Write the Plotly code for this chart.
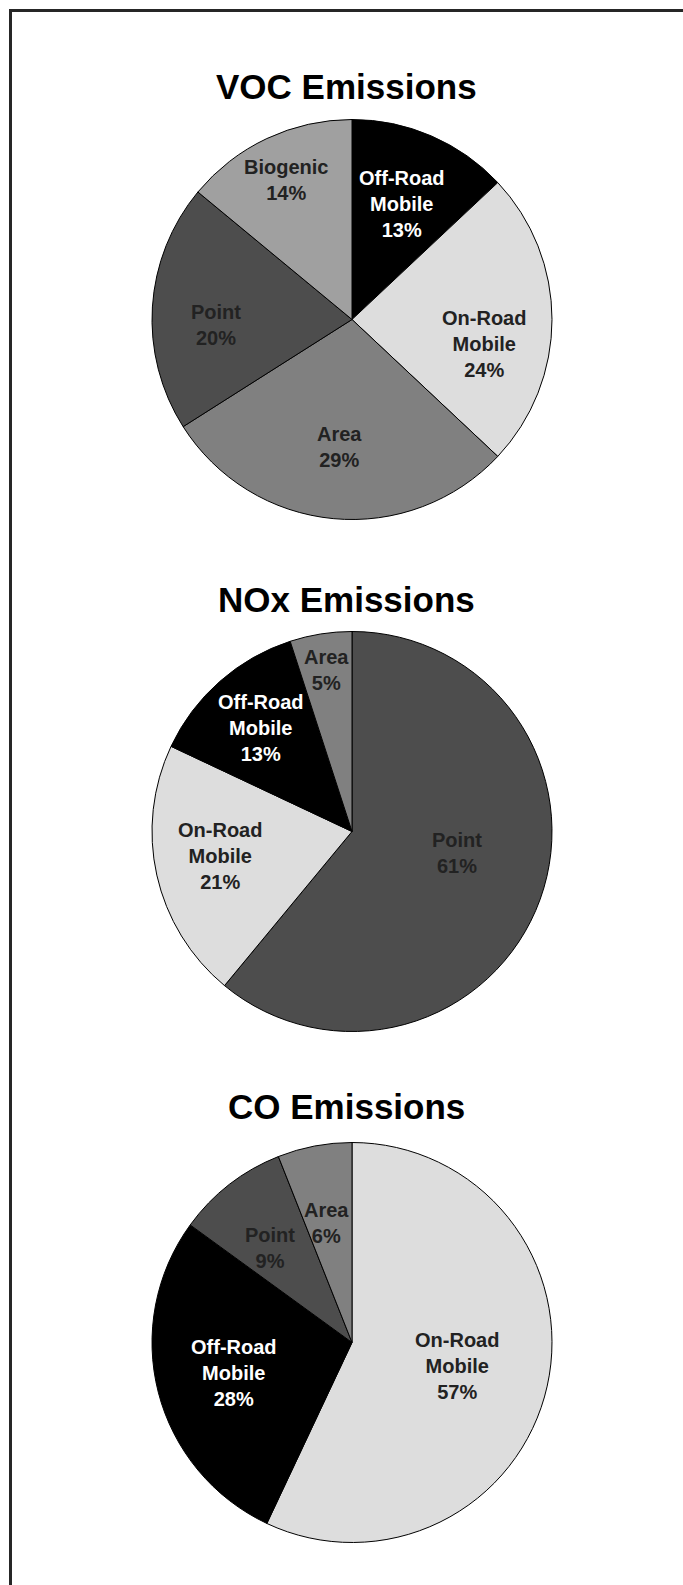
import math
import plotly.graph_objects as go

# Emission shares (percent) by source category, listed clockwise from 12 o'clock
VOC_SOURCES = ["Off-Road Mobile", "On-Road Mobile", "Area", "Point", "Biogenic"]
VOC_SHARES = [13, 24, 29, 20, 14]

NOX_SOURCES = ["Point", "On-Road Mobile", "Off-Road Mobile", "Area"]
NOX_SHARES = [61, 21, 13, 5]

CO_SOURCES = ["On-Road Mobile", "Off-Road Mobile", "Point", "Area"]
CO_SHARES = [57, 28, 9, 6]

TITLES = ["VOC Emissions", "NOx Emissions", "CO Emissions"]

# Styling
SOURCE_COLORS = {
    "Off-Road Mobile": "#000000",
    "On-Road Mobile": "#DDDDDD",
    "Area": "#808080",
    "Point": "#4D4D4D",
    "Biogenic": "#A0A0A0",
}
DARK_TEXT = "#222222"
FONT = "Liberation Sans, Arial, sans-serif"

W, H = 683, 1585
R = 200                      # pie radius, px
CX = 352                     # pie centre x, px
PIE_CY = [319.5, 831.5, 1342.5]
TITLE_X = 346.5
TITLE_CY = [86, 599, 1106]
# label placement per slice: fraction of radius, and angular nudge (deg) from slice middle
LABEL_RADII = [
    [0.63, 0.67, 0.64, 0.68, 0.77],
    [0.534, 0.67, 0.69, 0.82],
    [0.54, 0.61, 0.625, 0.61],
]
LABEL_TURN = [
    [0, 10.5, 0, -6, 0],
    [-8.3, 2.1, 0, 0],
    [0, 0, -3, -1.5],
]


def px(x, y):
    return x / W, 1 - y / H


def label_text(source, share):
    return "<b>" + source.replace("-Road ", "-Road<br>") + f"<br>{share}%</b>"


fig = go.Figure()
annotations = []

charts = [(VOC_SOURCES, VOC_SHARES), (NOX_SOURCES, NOX_SHARES), (CO_SOURCES, CO_SHARES)]
for i, (sources, shares) in enumerate(charts):
    cy = PIE_CY[i]
    x0, y1 = px(CX - R, cy - R)
    x1, y0 = px(CX + R, cy + R)
    fig.add_trace(go.Pie(
        labels=sources,
        values=shares,
        sort=False,
        direction="clockwise",
        rotation=0,
        textinfo="none",
        hoverinfo="label+percent",
        showlegend=False,
        marker=dict(colors=[SOURCE_COLORS[s] for s in sources],
                    line=dict(color="#000000", width=1)),
        domain=dict(x=[x0, x1], y=[y0, y1]),
    ))

    # title above each pie
    tx, ty = px(TITLE_X, TITLE_CY[i])
    annotations.append(dict(
        x=tx, y=ty, xref="paper", yref="paper", xanchor="center", yanchor="middle",
        text=f"<b>{TITLES[i]}</b>", showarrow=False,
        font=dict(family=FONT, size=35, color="#000000"),
    ))

    # slice labels near the angular middle of each slice
    total = sum(shares)
    cum = 0
    for j, (src, val) in enumerate(zip(sources, shares)):
        theta = math.radians(360 * (cum + val / 2) / total + LABEL_TURN[i][j])
        cum += val
        r = LABEL_RADII[i][j] * R
        lx, ly = px(CX + r * math.sin(theta), cy - r * math.cos(theta))
        color = "#FFFFFF" if SOURCE_COLORS[src] == "#000000" else DARK_TEXT
        annotations.append(dict(
            x=lx, y=ly, xref="paper", yref="paper", xanchor="center", yanchor="middle",
            text=label_text(src, val), showarrow=False,
            font=dict(family=FONT, size=20, color=color),
        ))

# frame around the page
fig.add_shape(type="rect", xref="paper", yref="paper",
              x0=10.5 / W, y0=1 - 1700 / H, x1=800 / W, y1=1 - 10.5 / H,
              line=dict(color="#262626", width=3), fillcolor="rgba(0,0,0,0)")

fig.update_layout(
    width=W, height=H,
    margin=dict(l=0, r=0, t=0, b=0),
    paper_bgcolor="#FFFFFF",
    plot_bgcolor="#FFFFFF",
    annotations=annotations,
    font=dict(family=FONT),
)

fig.write_html("out.html")
